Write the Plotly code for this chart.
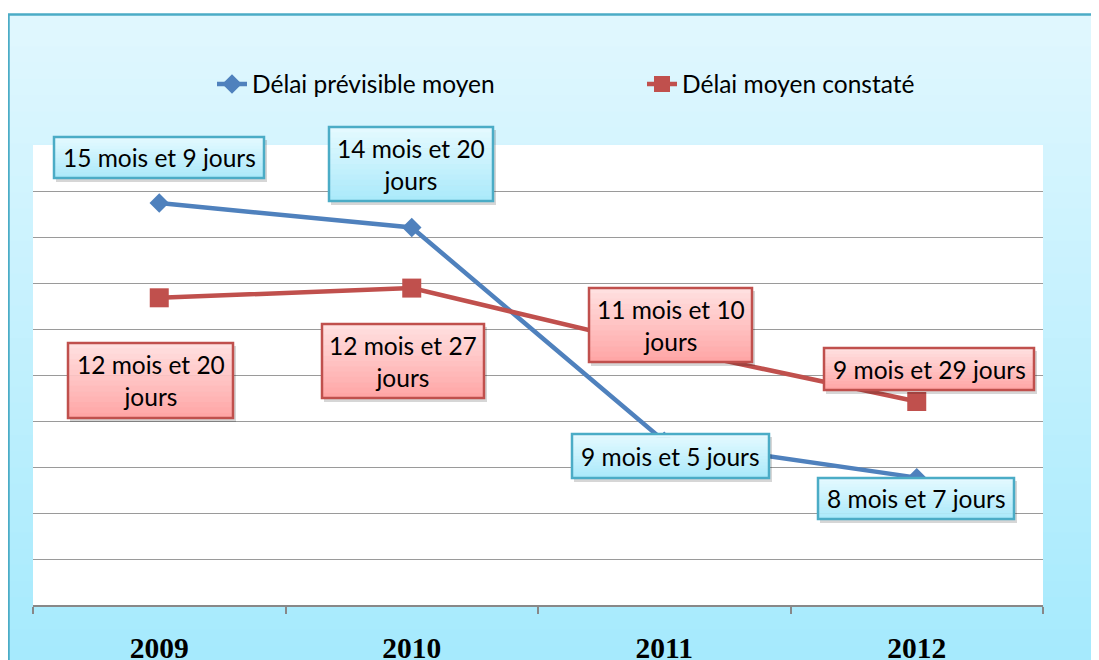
import plotly.graph_objects as go

# ---------------- data ----------------
years = ["2009", "2010", "2011", "2012"]
prevu = [15.30, 14.67, 9.17, 8.23]        # Délai prévisible moyen (mois)
constate = [12.86, 13.11, 11.57, 10.19]   # Délai moyen constaté (mois, position lue)
labels_prevu = ["15 mois et 9 jours", "14 mois et 20<br>jours",
                "9 mois et 5 jours", "8 mois et 7 jours"]
labels_constate = ["12 mois et 20<br>jours", "12 mois et 27<br>jours",
                   "11 mois et 10<br>jours", "9 mois et 29 jours"]
series_names = ["Délai prévisible moyen", "Délai moyen constaté"]

# ---------------- layout constants ----------------
OFF = 8                      # page body margin
W, H = 1091, 652
L, T = 25, 137
R = W - 1035
B = H - 597
PW, PH = W - L - R, H - T - B
YMIN, YMAX = 4.951, 16.794

BLUE = "#4f81bd"
RED = "#c0504d"
FONT = "Lato"
FS = 24.5


def px_x(px):
    """page pixel -> paper x"""
    return (px - OFF - L) / PW


def px_y(py):
    """page pixel -> paper y"""
    return (H - B - (py - OFF)) / PH


def mix(c1, c2, t):
    a = [int(c1[i:i + 2], 16) for i in (1, 3, 5)]
    b = [int(c2[i:i + 2], 16) for i in (1, 3, 5)]
    return "rgb(%d,%d,%d)" % tuple(round(a[k] + (b[k] - a[k]) * t) for k in range(3))


shapes = []
# background gradient of chart area
N = 40
top_px, bot_px = 14, 662
for i in range(N):
    y0 = top_px + (bot_px - top_px) * i / N
    y1 = top_px + (bot_px - top_px) * (i + 1) / N + 1
    shapes.append(dict(type="rect", xref="paper", yref="paper", layer="below",
                       x0=px_x(8), x1=px_x(1110), y0=px_y(y1), y1=px_y(y0),
                       line=dict(width=0), fillcolor=mix("#e1f7fe", "#a5eafd", (i + 0.5) / N)))
# frame
shapes.append(dict(type="rect", xref="paper", yref="paper", layer="below",
                   x0=px_x(8.5), x1=px_x(1112), y0=px_y(680), y1=px_y(14.5),
                   line=dict(width=2.5, color="#4bacc6"), fillcolor="rgba(0,0,0,0)"))
# white plot area
shapes.append(dict(type="rect", xref="paper", yref="paper", layer="below",
                   x0=0, x1=1, y0=0, y1=1, line=dict(width=0), fillcolor="white"))

# label boxes (page pixel rectangles): x0, x1, y0, y1
boxes_prevu = [(54, 264, 137, 178), (329, 493, 127, 201),
               (572, 769, 434, 478), (818, 1014, 478, 519)]
boxes_constate = [(68, 233, 343, 418), (322, 484, 324, 398),
                  (589, 752, 288, 362), (824, 1034, 348, 390)]

annotations = []


def add_box(box, text, ctop, cbot, border):
    x0, x1, y0, y1 = box
    # shadow
    shapes.append(dict(type="rect", xref="paper", yref="paper", layer="above",
                       x0=px_x(x0 + 2), x1=px_x(x1 + 3), y0=px_y(y1 + 4), y1=px_y(y0 + 3),
                       line=dict(width=0), fillcolor="rgba(0,0,0,0.16)"))
    n = 14
    for i in range(n):
        a = y0 + (y1 - y0) * i / n
        b = y0 + (y1 - y0) * (i + 1) / n + 0.6
        shapes.append(dict(type="rect", xref="paper", yref="paper", layer="above",
                           x0=px_x(x0), x1=px_x(x1), y0=px_y(min(b, y1)), y1=px_y(a),
                           line=dict(width=0), fillcolor=mix(ctop, cbot, (i + 0.5) / n)))
    shapes.append(dict(type="rect", xref="paper", yref="paper", layer="above",
                       x0=px_x(x0), x1=px_x(x1), y0=px_y(y1), y1=px_y(y0),
                       line=dict(width=2.5, color=border), fillcolor="rgba(0,0,0,0)"))
    annotations.append(dict(xref="paper", yref="paper", x=px_x((x0 + x1) / 2),
                            y=px_y((y0 + y1) / 2), text=text, showarrow=False,
                            xanchor="center", yanchor="middle",
                            font=dict(family=FONT, size=FS, color="black")))


for bx, t in zip(boxes_prevu, labels_prevu):
    add_box(bx, t, "#e6faff", "#a9e9fa", "#4bacc6")
for bx, t in zip(boxes_constate, labels_constate):
    add_box(bx, t, "#ffe2e2", "#ffa4a4", RED)

fig = go.Figure()
fig.add_trace(go.Scatter(x=years, y=prevu, name=series_names[0], mode="lines+markers",
                         line=dict(color=BLUE, width=4.5),
                         marker=dict(symbol="diamond", size=15, color=BLUE)))
fig.add_trace(go.Scatter(x=years, y=constate, name=series_names[1], mode="lines+markers",
                         line=dict(color=RED, width=4.5),
                         marker=dict(symbol="square", size=19, color=RED)))

fig.update_layout(
    width=W, height=H,
    margin=dict(l=L, r=R, t=T, b=B, pad=0, autoexpand=False),
    paper_bgcolor="white", plot_bgcolor="white",
    shapes=shapes, annotations=annotations,
    showlegend=True,
    legend=dict(orientation="h", x=px_x(212), xanchor="left", y=px_y(84), yanchor="middle",
                bgcolor="rgba(0,0,0,0)", font=dict(family=FONT, size=FS, color="black"),
                entrywidth=385, entrywidthmode="pixels"),
    xaxis=dict(type="category", range=[-0.5, 3.5], showgrid=False, zeroline=False,
               automargin=False,
               showline=True, linecolor="#888888", linewidth=1.5,
               ticks="outside", tickson="boundaries", ticklen=7, tickcolor="#888888",
               tickwidth=1.5, ticklabelstandoff=16,
               tickfont=dict(family="Liberation Serif", size=29.5, color="black", weight="bold")),
    yaxis=dict(range=[YMIN, YMAX], tick0=YMIN, dtick=(YMAX - YMIN) / 10,
               automargin=False,
               showgrid=True, gridcolor="#9a9a9a", gridwidth=1.3,
               showticklabels=False, zeroline=False, showline=False, ticks=""),
)

fig.write_html("out.html")
